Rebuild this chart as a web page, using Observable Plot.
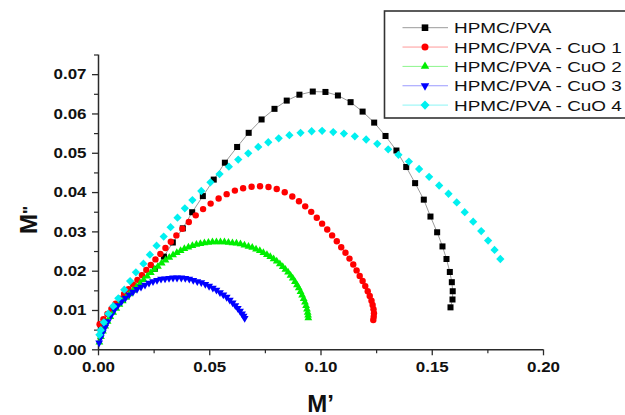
<!DOCTYPE html>
<html><head><meta charset="utf-8">
<script src="https://cdn.jsdelivr.net/npm/d3@7"></script>
<script src="https://cdn.jsdelivr.net/npm/@observablehq/plot@0.6"></script>
<style>
html,body{margin:0;padding:0;background:#fff;}
#chart{position:relative;width:625px;height:415px;overflow:hidden;}
</style></head><body><div id="chart"></div>
<script>
// ---- data (M', M'') ----
const seriesNames = ["HPMC/PVA","HPMC/PVA - CuO 1","HPMC/PVA - CuO 2","HPMC/PVA - CuO 3","HPMC/PVA - CuO 4"];
const xTicks = [0, 0.05, 0.10, 0.15, 0.20];
const xMinor = [0.025, 0.075, 0.125, 0.175];
const yTicks = [0, 0.01, 0.02, 0.03, 0.04, 0.05, 0.06, 0.07];
const yMinor = [0.005, 0.015, 0.025, 0.035, 0.045, 0.055, 0.065, 0.075];

const hpmcPva = [[0.0253,0.0206],[0.0294,0.0237],[0.0334,0.0273],[0.0379,0.0309],[0.0421,0.0350],[0.0469,0.0391],[0.0518,0.0433],[0.0568,0.0476],[0.0623,0.0516],[0.0675,0.0552],[0.0733,0.0586],[0.0791,0.0613],[0.0846,0.0634],[0.0903,0.0649],[0.0963,0.0657],[0.1020,0.0656],[0.1076,0.0647],[0.1133,0.0630],[0.1187,0.0606],[0.1239,0.0578],[0.1290,0.0544],[0.1339,0.0507],[0.1383,0.0465],[0.1423,0.0424],[0.1462,0.0382],[0.1492,0.0339],[0.1522,0.0299],[0.1546,0.0263],[0.1564,0.0231],[0.1579,0.0198],[0.1588,0.0172],[0.1592,0.0149],[0.1591,0.0128],[0.1582,0.0108]];

const cuo1 = [[0.0005,0.0065],[0.0022,0.0078],[0.0040,0.0091],[0.0058,0.0104],[0.0077,0.0117],[0.0096,0.0130],[0.0115,0.0142],[0.0135,0.0154],[0.0155,0.0166],[0.0175,0.0178],[0.0195,0.0190],[0.0215,0.0203],[0.0235,0.0216],[0.0256,0.0230],[0.0278,0.0244],[0.0301,0.0259],[0.0325,0.0275],[0.0350,0.0291],[0.0377,0.0308],[0.0406,0.0325],[0.0437,0.0342],[0.0470,0.0358],[0.0504,0.0372],[0.0540,0.0385],[0.0576,0.0396],[0.0613,0.0405],[0.0650,0.0411],[0.0688,0.0415],[0.0726,0.0416],[0.0764,0.0414],[0.0801,0.0409],[0.0837,0.0401],[0.0871,0.0390],[0.0901,0.0378],[0.0929,0.0365],[0.0956,0.0351],[0.0981,0.0336],[0.1005,0.0321],[0.1028,0.0306],[0.1050,0.0291],[0.1071,0.0276],[0.1091,0.0261],[0.1110,0.0247],[0.1128,0.0232],[0.1145,0.0217],[0.1160,0.0202],[0.1174,0.0188],[0.1187,0.0175],[0.1199,0.0162],[0.1210,0.0149],[0.1219,0.0137],[0.1227,0.0125],[0.1232,0.0114],[0.1236,0.0103],[0.1238,0.0093],[0.1237,0.0084],[0.1235,0.0076]];

const cuo2 = [[0.0004,0.0019],[0.0011,0.0033],[0.0020,0.0047],[0.0030,0.0060],[0.0041,0.0072],[0.0053,0.0084],[0.0066,0.0095],[0.0080,0.0105],[0.0094,0.0115],[0.0109,0.0124],[0.0124,0.0133],[0.0139,0.0142],[0.0155,0.0151],[0.0171,0.0160],[0.0187,0.0169],[0.0203,0.0178],[0.0219,0.0187],[0.0235,0.0196],[0.0251,0.0204],[0.0267,0.0212],[0.0284,0.0220],[0.0301,0.0228],[0.0318,0.0235],[0.0335,0.0241],[0.0352,0.0247],[0.0369,0.0252],[0.0386,0.0257],[0.0404,0.0261],[0.0422,0.0265],[0.0440,0.0268],[0.0458,0.0270],[0.0476,0.0272],[0.0494,0.0273],[0.0512,0.0274],[0.0530,0.0274],[0.0548,0.0274],[0.0566,0.0274],[0.0584,0.0273],[0.0602,0.0272],[0.0620,0.0271],[0.0638,0.0269],[0.0656,0.0266],[0.0674,0.0263],[0.0691,0.0260],[0.0708,0.0256],[0.0725,0.0252],[0.0741,0.0247],[0.0757,0.0242],[0.0772,0.0237],[0.0787,0.0231],[0.0801,0.0225],[0.0815,0.0218],[0.0828,0.0211],[0.0840,0.0204],[0.0852,0.0197],[0.0863,0.0189],[0.0873,0.0182],[0.0883,0.0173],[0.0892,0.0165],[0.0900,0.0157],[0.0908,0.0148],[0.0915,0.0139],[0.0922,0.0130],[0.0928,0.0121],[0.0933,0.0112],[0.0937,0.0103],[0.0940,0.0095],[0.0942,0.0088],[0.0943,0.0081]];

const cuo3 = [[0.0003,0.0018],[0.0010,0.0031],[0.0019,0.0044],[0.0030,0.0058],[0.0042,0.0072],[0.0056,0.0087],[0.0071,0.0101],[0.0087,0.0113],[0.0104,0.0123],[0.0121,0.0132],[0.0138,0.0140],[0.0155,0.0147],[0.0173,0.0154],[0.0191,0.0160],[0.0209,0.0165],[0.0227,0.0170],[0.0245,0.0174],[0.0263,0.0177],[0.0281,0.0180],[0.0299,0.0181],[0.0317,0.0182],[0.0335,0.0183],[0.0353,0.0183],[0.0372,0.0183],[0.0390,0.0182],[0.0408,0.0180],[0.0426,0.0177],[0.0444,0.0174],[0.0462,0.0171],[0.0480,0.0167],[0.0497,0.0162],[0.0514,0.0157],[0.0530,0.0152],[0.0546,0.0146],[0.0561,0.0140],[0.0576,0.0134],[0.0590,0.0127],[0.0603,0.0120],[0.0615,0.0113],[0.0626,0.0106],[0.0636,0.0099],[0.0645,0.0092],[0.0652,0.0086],[0.0657,0.0080]];

const cuo4 = [[0.0004,0.0038],[0.0010,0.0050],[0.0024,0.0070],[0.0044,0.0092],[0.0066,0.0111],[0.0089,0.0131],[0.0116,0.0153],[0.0142,0.0175],[0.0168,0.0197],[0.0202,0.0219],[0.0231,0.0242],[0.0261,0.0265],[0.0293,0.0288],[0.0324,0.0312],[0.0355,0.0336],[0.0388,0.0360],[0.0422,0.0381],[0.0462,0.0404],[0.0503,0.0426],[0.0544,0.0447],[0.0586,0.0466],[0.0628,0.0484],[0.0673,0.0500],[0.0718,0.0516],[0.0763,0.0528],[0.0810,0.0538],[0.0858,0.0546],[0.0908,0.0552],[0.0958,0.0556],[0.1005,0.0557],[0.1055,0.0554],[0.1103,0.0550],[0.1152,0.0543],[0.1203,0.0535],[0.1253,0.0524],[0.1302,0.0510],[0.1348,0.0496],[0.1395,0.0479],[0.1441,0.0460],[0.1486,0.0440],[0.1531,0.0418],[0.1573,0.0397],[0.1610,0.0375],[0.1646,0.0350],[0.1684,0.0326],[0.1720,0.0302],[0.1751,0.0278],[0.1780,0.0254],[0.1806,0.0231]];

// ---- symbols ----
const triUp = {draw(ctx, size){const s=Math.sqrt(size*4/Math.sqrt(3)), h=s*Math.sqrt(3)/2; ctx.moveTo(0,-2*h/3); ctx.lineTo(s/2,h/3); ctx.lineTo(-s/2,h/3); ctx.closePath();}};
const triDown = {draw(ctx, size){const s=Math.sqrt(size*4/Math.sqrt(3)), h=s*Math.sqrt(3)/2; ctx.moveTo(0,2*h/3); ctx.lineTo(s/2,-h/3); ctx.lineTo(-s/2,-h/3); ctx.closePath();}};
const diamond = {draw(ctx, size){const d=Math.sqrt(size*2)/2; ctx.moveTo(0,-d); ctx.lineTo(d,0); ctx.lineTo(0,d); ctx.lineTo(-d,0); ctx.closePath();}};

const series = [
  {data: hpmcPva, color: "#000000", line: "#9a9a9a", symbol: d3.symbolSquare, r: 3.4},
  {data: cuo1, color: "#ff0000", line: "#ff9a9a", symbol: d3.symbolCircle, r: 3.2},
  {data: cuo2, color: "#00ee00", line: "#8cf58c", symbol: triUp, r: 2.9},
  {data: cuo3, color: "#0000ff", line: "#9a9aff", symbol: triDown, r: 2.9},
  {data: cuo4, color: "#00f0f0", line: "#8cf5f5", symbol: diamond, r: 3.3}
];
const rows = series.map((s, i) => s.data.map(([x, y], k) => ({x, y, k, name: seriesNames[i]})));

const axisColor = "#2a2a2a";
const chart = Plot.plot({
  width: 625, height: 415,
  marginLeft: 98, marginRight: 82, marginTop: 54.5, marginBottom: 65.7,
  style: {fontFamily: "'Liberation Sans', Arial, sans-serif", background: "#fff", color: axisColor},
  x: {domain: [0, 0.2], label: null},
  y: {domain: [0, 0.075], label: null},
  marks: [
    Plot.ruleY([0], {x1: 0, x2: 0.2, stroke: axisColor, strokeWidth: 1.5}),
    Plot.ruleX([0], {y1: 0, y2: 0.075, stroke: axisColor, strokeWidth: 1.5}),
    Plot.axisX({ticks: xMinor, tickSize: 4, tickFormat: () => "", label: null, strokeWidth: 1.2}),
    Plot.axisY({ticks: yMinor, tickSize: 4, tickFormat: () => "", label: null, strokeWidth: 1.2}),
    Plot.axisX({ticks: xTicks, tickSize: 6, tickPadding: 6, tickFormat: d3.format(".2f"), label: null, strokeWidth: 1.3, fontSize: 15, fontWeight: "bold"}),
    Plot.axisY({ticks: yTicks, tickSize: 6, tickPadding: 6, tickFormat: d3.format(".2f"), label: null, strokeWidth: 1.3, fontSize: 15, fontWeight: "bold"}),
    Plot.line(rows[0], {x: "x", y: "y", stroke: series[0].line, strokeWidth: 1}),
    ...series.map((s, i) => Plot.dot(rows[i], {x: "x", y: "y", symbol: s.symbol, r: s.r, fill: s.color, stroke: "none"}))
  ]
});
document.getElementById("chart").appendChild(chart);

const svg = d3.select(chart);
function stretch(sel, k){ sel.each(function(){ const w = this.getComputedTextLength(); this.setAttribute("textLength", (w*k).toFixed(1)); this.setAttribute("lengthAdjust", "spacingAndGlyphs"); }); }
svg.selectAll('g[aria-label$="tick label"] text').attr("font-weight", "bold").attr("font-size", 15).attr("fill", "#111");
stretch(svg.selectAll('g[aria-label$="tick label"] text'), 1.13);

// axis titles
svg.append("text").attr("x", 320.5).attr("y", 411.5).attr("text-anchor", "middle")
  .attr("font-size", 24).attr("font-weight", "bold").attr("fill", "#111").text("M\u2019");
const yt = svg.append("text").attr("transform", "translate(37,220) rotate(-90)").attr("text-anchor", "middle")
  .attr("font-size", 24).attr("font-weight", "bold").attr("fill", "#111");
yt.append("tspan").text("M");
yt.append("tspan").attr("font-size", 17).attr("dy", -2).text("\"");

// legend
const lg = svg.append("g").attr("font-size", 15.5).attr("font-weight", "normal").attr("text-anchor", "start");
lg.append("rect").attr("x", 384.5).attr("y", 11).attr("width", 260).attr("height", 107)
  .attr("fill", "#fff").attr("stroke", "#333").attr("stroke-width", 1.6);
series.forEach((s, i) => {
  const cy = 27.7 + i * 19.35;
  lg.append("line").attr("x1", 402.5).attr("x2", 448).attr("y1", cy).attr("y2", cy).attr("stroke", s.line).attr("stroke-width", 1);
  lg.append("path").attr("d", d3.symbol(s.symbol, Math.PI * s.r * s.r * 1.2)()).attr("transform", `translate(425,${cy})`).attr("fill", s.color);
  lg.append("text").attr("x", 454).attr("y", cy).attr("dy", "0.36em").attr("text-anchor", "start").attr("fill", "#111").text(seriesNames[i]);
});
stretch(lg.selectAll("text"), 1.22);
</script>
</body></html>
